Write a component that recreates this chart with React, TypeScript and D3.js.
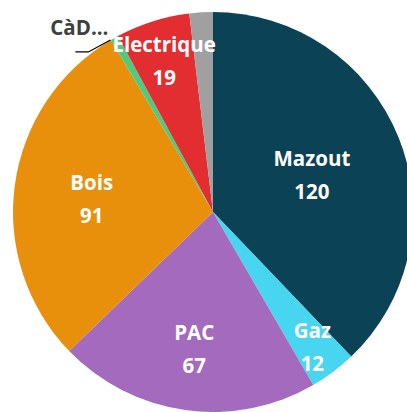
import * as d3 from "d3";

const categories = ["Mazout", "Gaz", "PAC", "Bois", "CàD...", "Electrique", "Autre"];
const values = [120, 12, 67, 91, 2, 19, 6];
const colors = ["#0b4256", "#48d5ef", "#a46abd", "#e8900b", "#4dcc80", "#e22e31", "#a0a0a0"];
// which slices get a label inside, outside, or none
const labelMode = ["in", "in", "in", "in", "out", "in", "none"];

const W = 407;
const H = 412;
const cx = 213;
const cy = 212;
const R = 200;

export default function App() {
  const data = categories.map((c, i) => ({ name: c, value: values[i], color: colors[i], mode: labelMode[i] }));

  const pie = d3
    .pie<(typeof data)[number]>()
    .sort(null)
    .value((d) => d.value);
  const arcs = pie(data);

  const arc = d3.arc<d3.PieArcDatum<(typeof data)[number]>>().innerRadius(0).outerRadius(R);

  // bigger slices keep their label closer to the centre
  const labelPos = (a: d3.PieArcDatum<(typeof data)[number]>) => {
    const deg = ((a.endAngle - a.startAngle) * 180) / Math.PI;
    const r = R * (0.86 - 0.0024 * deg);
    const mid = (a.startAngle + a.endAngle) / 2;
    return [r * Math.sin(mid), -r * Math.cos(mid) + 3];
  };

  const font = "'Open Sans', 'Noto Sans', sans-serif";

  return (
    <svg width={W} height={H} style={{ position: "absolute", left: 0, top: 0, background: "#fff" }}>
      <g transform={`translate(${cx},${cy})`}>
        {arcs.map((a, i) => (
          <path key={i} d={arc(a) ?? ""} fill={a.data.color} />
        ))}
        {arcs
          .filter((a) => a.data.mode === "in")
          .map((a, i) => {
            const [x, y] = labelPos(a);
            return (
              <text
                key={i}
                x={x}
                y={y}
                fill="#fff"
                fontFamily={font}
                fontWeight="bold"
                fontSize="20.5"
                textAnchor="middle"
              >
                <tspan x={x} dy="-9">
                  {a.data.name}
                </tspan>
                <tspan x={x} dy="33">
                  {a.data.value}
                </tspan>
              </text>
            );
          })}
        {arcs
          .filter((a) => a.data.mode === "out")
          .map((a, i) => {
            const mid = (a.startAngle + a.endAngle) / 2;
            const px = R * Math.sin(mid) - 4;
            const py = -R * Math.cos(mid) + 2;
            return (
              <g key={i}>
                <polyline
                  points={`${px},${py} ${px - 22},${py + 12} ${px - 35},${py + 12}`}
                  fill="none"
                  stroke="#000"
                  strokeWidth="1.3"
                />
                <text
                  x={px - 2}
                  y={py - 5}
                  fill="#404040"
                  fontFamily={font}
                  fontWeight="bold"
                  fontSize="20.5"
                  textAnchor="end"
                >
                  {a.data.name}
                </text>
              </g>
            );
          })}
      </g>
    </svg>
  );
}
